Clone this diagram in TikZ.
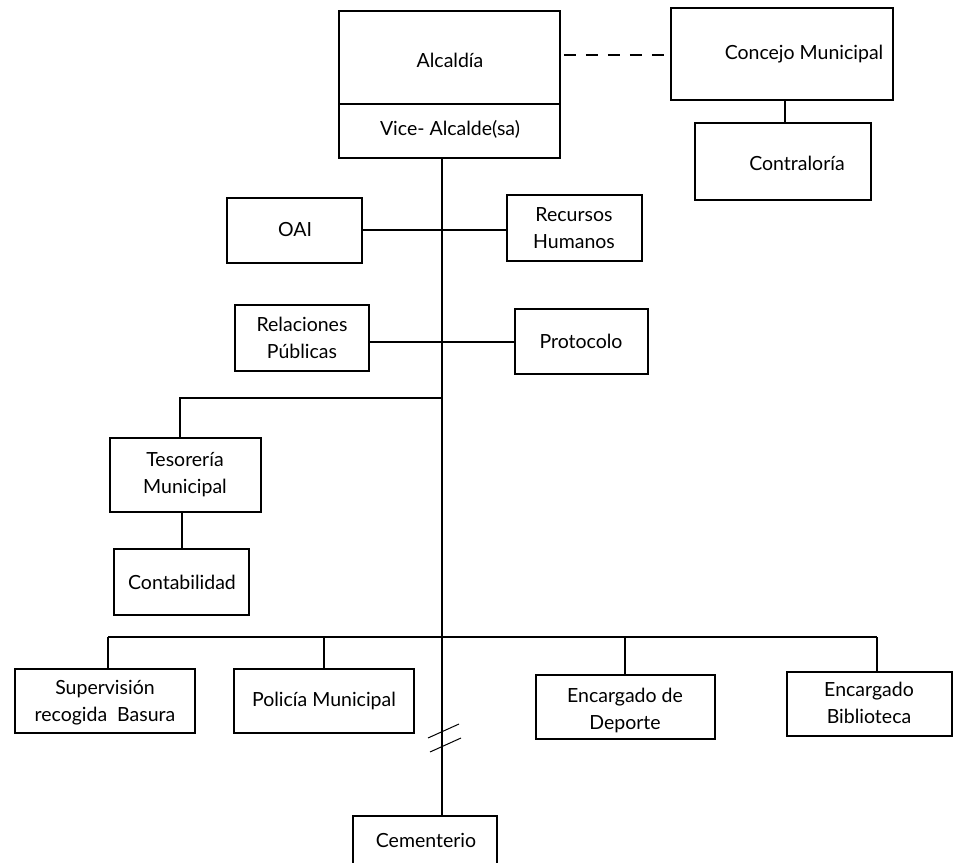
\documentclass[tikz,border=0pt]{standalone}
\usepackage{fontspec}
\setmainfont{Lato}
\begin{document}
\begin{tikzpicture}[x=1pt,y=-1pt,
  box/.style={draw, line width=1.9pt, inner sep=0pt},
  lbl/.style={font=\fontsize{19.5}{27}\selectfont, align=center, inner sep=0pt},
  conn/.style={line width=1.9pt}]
\useasboundingbox (0,0) rectangle (955,862);
\clip (0,0) rectangle (955,862);
% boxes
\node[box, minimum width=221pt, minimum height=147pt] (alc) at (449.5,84.5) {};
\node[lbl] (alcT) at (450,60) {Alcaldía};
\node[lbl] (viceT) at (450,129) {Vice- Alcalde(sa)};
\coordinate (divy) at (0,104);
\draw[conn] (alc.west |- divy) -- (alc.east |- divy);

\node[box, minimum width=222pt, minimum height=92pt] (conc) at (782,54) {};
\node[lbl] (concT) at (804,54) {Concejo Municipal};
\node[box, minimum width=176pt, minimum height=77pt] (contr) at (783,161.5) {};
\node[lbl] (contrT) at (797,163) {Contraloría};

\node[box, minimum width=135pt, minimum height=65pt] (oai) at (294.5,230.5) {};
\node[lbl] (oaiT) at (295,230) {OAI};
\node[box, minimum width=135pt, minimum height=66pt] (rh) at (574.5,228) {};
\node[lbl] (rhT) at (574,228) {Recursos\\Humanos};
\node[box, minimum width=134pt, minimum height=66pt] (rp) at (302,338) {};
\node[lbl] (rpT) at (302,338) {Relaciones\\Públicas};
\node[box, minimum width=133pt, minimum height=65pt] (prot) at (581.5,341.5) {};
\node[lbl] (protT) at (581,341) {Protocolo};

\node[box, minimum width=151pt, minimum height=74pt] (tes) at (185.5,475) {};
\node[lbl] (tesT) at (185,475) {Tesorería\\Municipal};
\node[box, minimum width=135pt, minimum height=66pt] (cont) at (181.5,582) {};
\node[lbl] (contT) at (182,582) {Contabilidad};

\node[box, minimum width=180pt, minimum height=64pt] (sup) at (105,701) {};
\node[lbl] (supT) at (105,703) {Supervisión\\recogida\ \ Basura};
\node[box, minimum width=180pt, minimum height=64pt] (pol) at (324,701) {};
\node[lbl] (polT) at (324,701) {Policía Municipal};
\node[box, minimum width=179pt, minimum height=64pt] (dep) at (625.5,707) {};
\node[lbl] (depT) at (625,710) {Encargado de\\Deporte};
\node[box, minimum width=165pt, minimum height=64pt] (bib) at (869.5,704) {};
\node[lbl] (bibT) at (869,703) {Encargado\\Biblioteca};

\node[box, minimum width=144pt, minimum height=70pt] (cem) at (425,851) {};
\node[lbl] (cemT) at (426,840) {Cementerio};

% connectors
\coordinate (dashy) at (0,55);
\draw[conn, dash pattern=on 12pt off 10pt] ([xshift=3pt]alc.east |- dashy) -- (conc.west |- dashy);
\coordinate (cx) at (785,0);
\draw[conn] (conc.south -| cx) -- (contr.north -| cx);

\coordinate (trunk) at (442,0);
\draw[conn] (alc.south -| trunk) -- (cem.north -| trunk);
\coordinate (oaiy) at (0,230);
\draw[conn] (oai.east |- oaiy) -- (rh.west |- oaiy);
\coordinate (rpy) at (0,342);
\draw[conn] (rp.east |- rpy) -- (prot.west |- rpy);

\coordinate (tesJ) at (442,398);
\coordinate (tesL) at (180,398);
\draw[conn] (tesJ) -- (tesL) -- (tes.north -| tesL);
\coordinate (tcx) at (182,0);
\draw[conn] (tes.south -| tcx) -- (cont.north -| tcx);

\coordinate (busL) at (108,637);
\coordinate (busR) at (877,637);
\draw[conn] (busL) -- (busR);
\draw[conn] (busL) -- (sup.north -| busL);
\coordinate (polx) at (324,637);
\draw[conn] (polx) -- (pol.north -| polx);
\coordinate (depx) at (625,637);
\draw[conn] (depx) -- (dep.north -| depx);
\draw[conn] (busR) -- (bib.north -| busR);

% break mark
\coordinate (b1a) at (428,738); \coordinate (b1b) at (459,724);
\coordinate (b2a) at (430,752); \coordinate (b2b) at (461,738);
\draw[line width=1pt] (b1a) -- (b1b);
\draw[line width=1pt] (b2a) -- (b2b);
\end{tikzpicture}
\end{document}
